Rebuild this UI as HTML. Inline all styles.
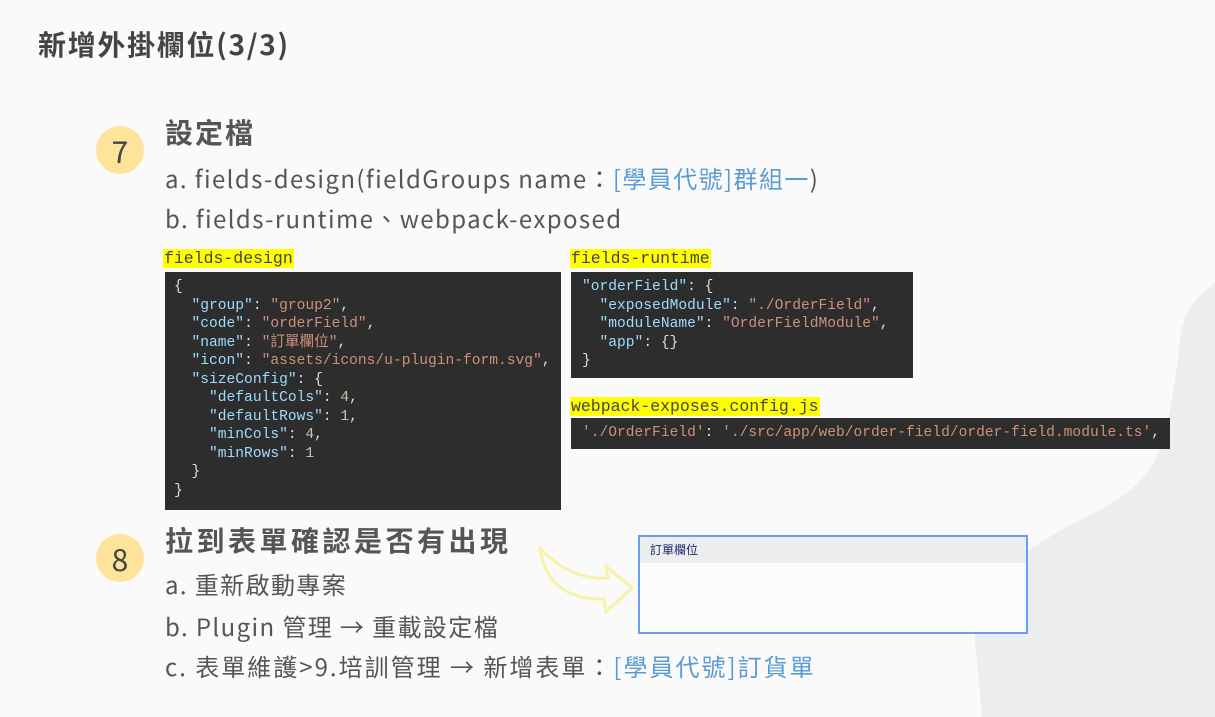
<!DOCTYPE html>
<html><head><meta charset="utf-8"><style>
body{margin:0;width:1215px;height:717px;background:#fafafa;position:relative;overflow:hidden;font-family:"Noto Sans CJK TC",sans-serif;color:#555}
.a{position:absolute;white-space:nowrap;line-height:1.2}
.circ{position:absolute;width:48px;height:48px;border-radius:50%;background:#fde49a;color:#444;font-size:30px;text-align:center;line-height:48px}
.h{font-size:28px;font-weight:bold;color:#555;letter-spacing:3.5px}
.t{font-size:24px;color:#555;letter-spacing:1.4px}
.b{color:#5b9bd5}
.lbl{position:absolute;background:#ffff00;font-family:"Liberation Mono","Noto Sans CJK TC",monospace;font-size:16.5px;color:#444;line-height:19px;padding:0 1px}
.code{position:absolute;background:#2d2d2d;font-family:"Liberation Mono","Noto Sans CJK TC",monospace;font-size:14.6px;line-height:18.5px;color:#ddd;white-space:pre;margin:0;box-sizing:border-box}
.k{color:#9cdcfe}.s{color:#ce9178}.n{color:#b5cea8}
</style></head><body>
<svg style="position:absolute;left:0;top:0" width="1215" height="717"><path d="M1215 283 C1190 300 1182 320 1180 340 C1176 380 1170 420 1157 457 C1145 480 1130 493 1100 510 C1070 525 1040 540 1010 565 C985 590 975 620 975 640 L982 717 L1215 717 Z" fill="#ecedef"/>
<path d="M540 548 C560 570 585 580 608 578 L606 566 L632 588 L606 612 L604 599 C570 600 545 585 540 548 Z" fill="none" stroke="#faf1a8" stroke-width="3" stroke-linejoin="round"/></svg>
<div class="a" style="left:38px;top:28px;font-size:28px;font-weight:bold;color:#444;letter-spacing:1.7px">新增外掛欄位(3/3)</div>
<div class="circ" style="left:96px;top:126px">7</div>
<div class="a h" style="left:165px;top:116px;letter-spacing:2px">設定檔</div>
<div class="a t" style="left:165px;top:164px">a. fields-design(fieldGroups name：<span class="b">[學員代號]群組一</span>)</div>
<div class="a t" style="left:165px;top:204px">b. fields-runtime、webpack-exposed</div>
<div class="lbl" style="left:163px;top:249px">fields-design</div>
<pre class="code" style="left:165px;top:272px;width:396px;height:238px;padding:6px 0 0 9px">{
  <span class="k">"group"</span>: <span class="s">"group2"</span>,
  <span class="k">"code"</span>: <span class="s">"orderField"</span>,
  <span class="k">"name"</span>: <span class="s">"訂單欄位"</span>,
  <span class="k">"icon"</span>: <span class="s">"assets/icons/u-plugin-form.svg"</span>,
  <span class="k">"sizeConfig"</span>: {
    <span class="k">"defaultCols"</span>: <span class="n">4</span>,
    <span class="k">"defaultRows"</span>: <span class="n">1</span>,
    <span class="k">"minCols"</span>: <span class="n">4</span>,
    <span class="k">"minRows"</span>: <span class="n">1</span>
  }
}</pre>
<div class="lbl" style="left:570px;top:249px">fields-runtime</div>
<pre class="code" style="left:571px;top:272px;width:342px;height:106px;padding:6px 0 0 11px"><span class="k">"orderField"</span>: {
  <span class="k">"exposedModule"</span>: <span class="s">"./OrderField"</span>,
  <span class="k">"moduleName"</span>: <span class="s">"OrderFieldModule"</span>,
  <span class="k">"app"</span>: {}
}</pre>
<div class="lbl" style="left:570px;top:397px">webpack-exposes.config.js</div>
<pre class="code" style="left:571px;top:418px;width:599px;height:31px;padding:6px 0 0 11px"><span class="s">'./OrderField'</span>: <span class="s">'./src/app/web/order-field/order-field.module.ts'</span>,</pre>
<div class="circ" style="left:96px;top:534px">8</div>
<div class="a h" style="left:165px;top:524px">拉到表單確認是否有出現</div>
<div class="a t" style="left:165px;top:570px">a. 重新啟動專案</div>
<div class="a t" style="left:165px;top:612px">b. Plugin 管理 → 重載設定檔</div>
<div class="a t" style="left:165px;top:652px;letter-spacing:2px">c. 表單維護&gt;9.培訓管理 → 新增表單：<span class="b">[學員代號]訂貨單</span></div>
<div style="position:absolute;left:638px;top:535px;width:386px;height:95px;border:2px solid #6a9ef0;background:#fbfbfc">
<div style="height:26px;background:#ecedef;font-size:12px;color:#1a2a6a;line-height:26px;padding-left:10px">訂單欄位</div></div>
</body></html>
